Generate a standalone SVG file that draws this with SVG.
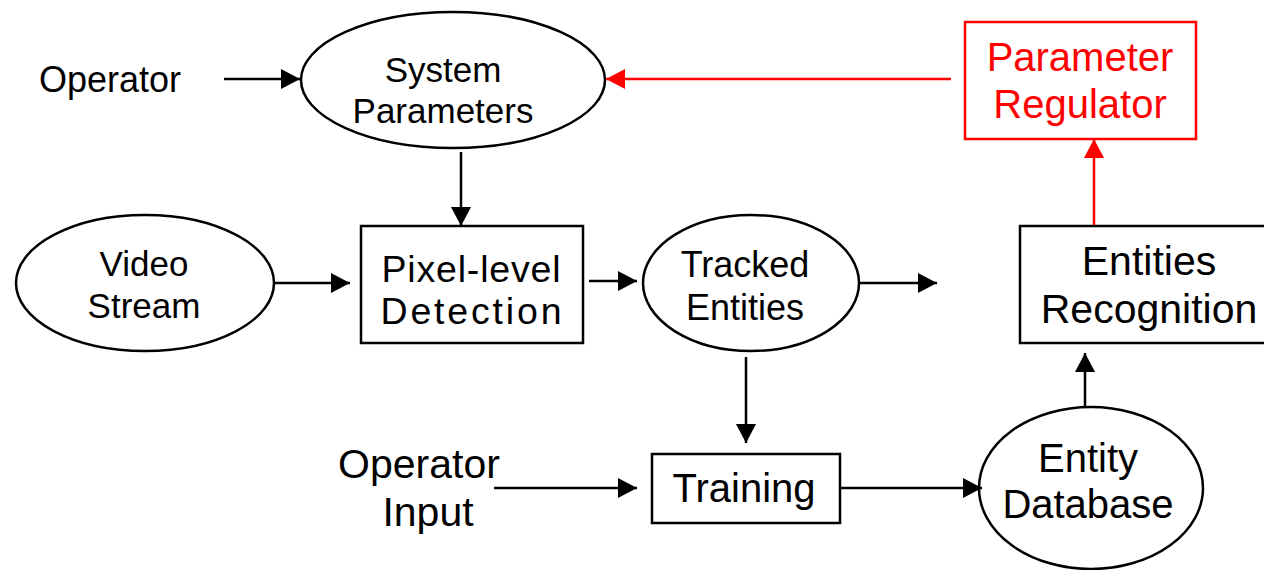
<svg xmlns="http://www.w3.org/2000/svg" width="1264" height="570" viewBox="0 0 1264 570">
<style>
.shape{fill:#fff;stroke:#000;stroke-width:2.5}
.red{fill:#fff;stroke:#f00;stroke-width:2.5}
text{font-family:"Liberation Sans",Arial,sans-serif;text-anchor:middle;fill:#000}
.rt{fill:#f00}
.c{stroke:#000;stroke-width:2.5;fill:none;marker-end:url(#ah)}
.cr{stroke:#f00;stroke-width:2.5;fill:none;marker-end:url(#ahr)}
</style>
<defs>
<marker id="ah" markerUnits="userSpaceOnUse" markerWidth="20" markerHeight="22" refX="19" refY="10" orient="auto" viewBox="0 0 20 20"><path d="M0,0 L19,10 L0,20 z" fill="#000"/></marker>
<marker id="ahr" markerUnits="userSpaceOnUse" markerWidth="20" markerHeight="22" refX="19" refY="10" orient="auto" viewBox="0 0 20 20"><path d="M0,0 L19,10 L0,20 z" fill="#f00"/></marker>
</defs>
<rect width="1264" height="570" fill="#fff"/>
<g id="operator"><text x="110" y="92" font-size="36">Operator</text></g>
<g id="system-parameters"><ellipse class="shape" cx="453" cy="80" rx="152" ry="68"/><text x="443" y="82" font-size="35">System</text><text x="443" y="123" font-size="35">Parameters</text></g>
<g id="parameter-regulator"><rect class="red" x="965" y="22" width="231" height="117"/><text class="rt" x="1080" y="71" font-size="40">Parameter</text><text class="rt" x="1080" y="118" font-size="40">Regulator</text></g>
<g id="video-stream"><ellipse class="shape" cx="145" cy="283" rx="129" ry="68"/><text x="144" y="276" font-size="35">Video</text><text x="144" y="318" font-size="35">Stream</text></g>
<g id="pixel-detection"><rect class="shape" x="361" y="226" width="222" height="117"/><text x="471" y="282" font-size="37.5" textLength="179" lengthAdjust="spacing">Pixel-level</text><text x="471" y="324" font-size="37.5" textLength="181" lengthAdjust="spacing">Detection</text></g>
<g id="tracked-entities"><ellipse class="shape" cx="751" cy="283" rx="108" ry="68"/><text x="745" y="277" font-size="36">Tracked</text><text x="745" y="320" font-size="36">Entities</text></g>
<g id="entities-recognition"><rect class="shape" x="1020" y="226" width="260" height="117"/><text x="1149" y="275" font-size="41">Entities</text><text x="1149" y="323" font-size="41">Recognition</text></g>
<g id="operator-input"><text x="419" y="478" font-size="41">Operator</text><text x="428" y="526" font-size="41">Input</text></g>
<g id="training"><rect class="shape" x="652" y="454" width="188" height="69"/><text x="744" y="502" font-size="40">Training</text></g>
<g id="entity-database"><ellipse class="shape" cx="1091" cy="488" rx="112" ry="81"/><text x="1088" y="472" font-size="40">Entity</text><text x="1088" y="518" font-size="40">Database</text></g>
<g id="connectors">
<line class="c" x1="224" y1="79" x2="300" y2="79"/>
<line class="c" x1="461" y1="152" x2="461" y2="226"/>
<line class="c" x1="274" y1="283" x2="350" y2="283"/>
<line class="c" x1="589" y1="281" x2="637" y2="281"/>
<line class="c" x1="860" y1="283" x2="937" y2="283"/>
<line class="c" x1="746" y1="357" x2="746" y2="443"/>
<line class="c" x1="494" y1="488" x2="637" y2="488"/>
<line class="c" x1="841" y1="488" x2="982" y2="488"/>
<line class="c" x1="1085" y1="407" x2="1085" y2="353"/>
<line class="cr" x1="1094" y1="225" x2="1094" y2="139"/>
<line class="cr" x1="951" y1="79" x2="606" y2="79"/>
</g>
</svg>
